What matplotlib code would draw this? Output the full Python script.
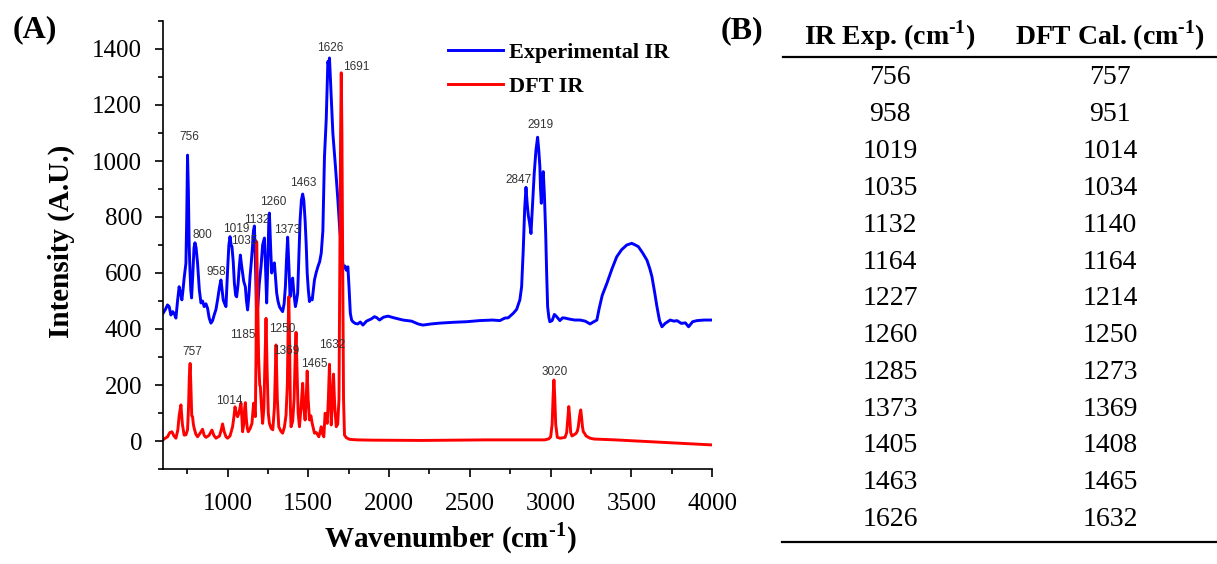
import matplotlib
matplotlib.use('Agg')
import matplotlib.pyplot as plt
from matplotlib.ticker import MultipleLocator

plt.rcParams['font.family'] = 'Liberation Serif'
plt.rcParams['mathtext.fontset'] = 'custom'
plt.rcParams['mathtext.rm'] = 'Liberation Serif'
plt.rcParams['mathtext.bf'] = 'Liberation Serif:bold'

# experimental FTIR spectrum (wavenumber, intensity)
exp_x = [600, 615, 628, 638, 649, 660, 669, 680, 690, 700, 708, 717, 724, 731, 742, 747, 752, 757, 762, 767,
         772, 777, 785, 792, 798, 805, 814, 825, 835, 845, 855, 866, 876, 886, 897, 907, 917, 928, 938, 950,
         959, 966, 973, 982, 990, 1000, 1008, 1015, 1022, 1027, 1035, 1042, 1050, 1056, 1065, 1072, 1079,
         1086, 1093, 1100, 1110, 1117, 1124, 1132, 1139, 1147, 1155, 1160, 1166, 1172, 1180, 1187, 1196,
         1207, 1217, 1228, 1235, 1242, 1250, 1255, 1259, 1266, 1273, 1282, 1290, 1297, 1304, 1312, 1321,
         1331, 1341, 1350, 1358, 1365, 1372, 1380, 1387, 1395, 1403, 1410, 1420, 1427, 1434, 1441, 1449,
         1457, 1465, 1472, 1480, 1487, 1493, 1500, 1507, 1515, 1524, 1531, 1538, 1548, 1559, 1570, 1580,
         1590, 1600, 1611, 1621, 1626, 1631, 1640, 1652, 1668, 1683, 1694, 1704, 1714, 1720, 1727, 1735,
         1745, 1752, 1760, 1768, 1776, 1790, 1806, 1822, 1838, 1860, 1890, 1910, 1925, 1941, 1965, 1993,
         2030, 2086, 2140, 2180, 2210, 2260, 2314, 2400, 2480, 2560, 2640, 2686, 2717, 2738, 2769, 2790,
         2810, 2821, 2831, 2840, 2848, 2855, 2862, 2870, 2879, 2889, 2899, 2910, 2920, 2927, 2934, 2938,
         2943, 2949, 2955, 2962, 2970, 2976, 2982, 2990, 2996, 3010, 3024, 3038, 3058, 3075, 3090, 3120,
         3150, 3183, 3215, 3245, 3265, 3287, 3300, 3320, 3349, 3380, 3410, 3440, 3472, 3503, 3525, 3544,
         3570, 3597, 3615, 3628, 3645, 3659, 3675, 3690, 3710, 3741, 3765, 3783, 3810, 3835, 3855, 3880,
         3907, 3950, 4000]
exp_y = [456, 470, 486, 480, 450, 462, 456, 439, 500, 551, 530, 504, 540, 582, 635, 800, 1021, 900, 700, 611,
         540, 511, 600, 690, 708, 690, 635, 540, 493, 500, 480, 490, 474, 439, 421, 430, 450, 470, 504, 550,
         575, 540, 504, 490, 480, 611, 700, 730, 700, 694, 640, 564, 520, 515, 560, 620, 664,
         630, 600, 570, 551, 500, 468, 520, 587, 640, 700, 750, 768, 650, 439, 480, 560,
         622, 700, 725, 620, 493, 650, 780, 814, 700, 600, 630, 636, 580, 528, 500, 480,
         470, 462, 490, 551, 650, 728, 620, 515, 560, 582, 530, 480, 500, 528, 650, 789,
         860, 882, 860, 789, 700, 600, 540, 498, 510, 504, 540, 575, 600, 622, 640, 671,
         750, 1015, 1150, 1355, 1340, 1368, 1250, 1099, 980, 861, 760, 694, 630, 618, 625, 610,
         622, 550, 457, 432, 426, 420, 418, 425, 414, 428, 436, 444, 440, 432, 442, 446,
         440, 432, 428, 418, 414, 418, 421, 424, 426, 430, 432, 430, 439, 440, 456, 470,
         504, 551, 682, 830, 906, 850, 807, 780, 741, 850, 956, 1040, 1085, 1040, 980, 900,
         849, 930, 962, 880, 741, 600, 480, 440, 426, 430, 452, 444, 430, 440, 439, 435,
         432, 432, 428, 418, 425, 432, 470, 520, 563, 614, 658, 683, 700, 706, 700, 694,
         672, 646, 615, 587, 530, 480, 430, 408, 420, 432, 428, 430, 420, 422, 408, 426,
         430, 432, 432]

# DFT calculated spectrum (wavenumber, intensity)
dft_x = [600, 614, 628, 642, 655, 668, 680, 692, 700, 711, 720, 731, 742, 752, 758, 763, 768, 773, 778, 783,
         788, 793, 803, 814, 830, 845, 855, 866, 885, 903, 915, 928, 950, 963, 969, 978, 990, 1000, 1015,
         1031, 1040, 1046, 1054, 1062, 1070, 1077, 1083, 1088, 1093, 1100, 1106, 1110, 1116, 1122, 1128,
         1140, 1151, 1156, 1161, 1166, 1172, 1176, 1180, 1185, 1192, 1199, 1203, 1210, 1217, 1225, 1230,
         1238, 1245, 1252, 1259, 1270, 1280, 1290, 1300, 1308, 1317, 1330, 1341, 1352, 1362, 1370, 1375,
         1379, 1384, 1389, 1393, 1403, 1412, 1420, 1424, 1430, 1437, 1445, 1455, 1465, 1472, 1480, 1487,
         1493, 1499, 1507, 1516, 1524, 1531, 1538, 1550, 1565, 1574, 1580, 1588, 1596, 1604, 1610, 1617,
         1624, 1631, 1637, 1642, 1650, 1656, 1663, 1673, 1682, 1690, 1696, 1700, 1704, 1708, 1713, 1718,
         1724, 1735, 1755, 1800, 1900, 2200, 2600, 2900, 2965, 2990, 3001, 3010, 3016, 3021, 3026, 3032,
         3042, 3060, 3090, 3100, 3108, 3113, 3118, 3125, 3133, 3145, 3158, 3166, 3172, 3180, 3187, 3193,
         3198, 3203, 3210, 3220, 3245, 3270, 3400, 3600, 3800, 4000]
dft_y = [4, 10, 15, 30, 33, 18, 10, 40, 90, 129, 60, 21, 22, 40, 120, 230, 277, 190, 90, 87,
         60, 46, 25, 15, 28, 42, 20, 13, 20, 39, 20, 10, 18, 45, 61, 35, 15, 10, 18,
         51, 90, 122, 100, 87, 100, 120, 135, 90, 33, 60, 120, 137, 80, 45, 33,
         45, 63, 100, 135, 110, 87, 300, 712, 560, 300, 200, 194, 120, 63, 120, 250,
         438, 250, 100, 63, 45, 40, 120, 343, 150, 51, 35, 28, 50, 93, 200, 400,
         515, 350, 120, 51, 70, 150, 330, 388, 250, 100, 51, 120, 206, 120, 75, 150,
         250, 150, 75, 90, 63, 45, 28, 30, 15, 35, 51, 25, 15, 99, 85, 63,
         150, 274, 150, 57, 150, 239, 130, 51, 60, 150, 700, 1100, 1315, 1100, 600, 150,
         21, 12, 6, 4, 3, 2, 4, 4, 4, 8, 15, 60, 160, 218, 160, 60,
         13, 10, 13, 30, 90, 123, 90, 30, 18, 22, 27, 35, 51, 90, 111, 80,
         50, 33, 28, 18, 10, 7, 4, -2, -8, -14]

# peak labels and where they sit
peak_labels = ['756', '800', '958', '1019', '1035', '1132', '1260', '1373', '1463', '1626', '1691',
               '2847', '2919', '757', '1014', '1185', '1250', '1369', '1465', '1632', '3020']
label_x = [762, 843, 930, 1054, 1104, 1178, 1284, 1370, 1470, 1637, 1799,
           2800, 2939, 781, 1011, 1097, 1339, 1364, 1538, 1650, 3028]
label_y = [1086, 736, 603, 757, 714, 789, 853, 753, 921, 1403, 1336,
           932, 1128, 318, 143, 379, 400, 321, 275, 343, 246]

# table values
ir_exp = [756, 958, 1019, 1035, 1132, 1164, 1227, 1260, 1285, 1373, 1405, 1463, 1626]
dft_cal = [757, 951, 1014, 1034, 1140, 1164, 1214, 1250, 1273, 1369, 1408, 1465, 1632]

W, H = 1217, 564
fig = plt.figure(figsize=(W / 100, H / 100), dpi=100)
ax = fig.add_axes([163 / W, 1 - 469 / H, (712 - 163) / W, (469 - 21) / H])

ax.plot(exp_x, exp_y, color='#0000ff', lw=2.1, label='Experimental IR')
ax.plot(dft_x, dft_y, color='#ff0000', lw=2.1, label='DFT IR')

for t, x, y in zip(peak_labels, label_x, label_y):
    ax.text(x, y, t, ha='center', va='center', fontsize=8.5, family='Liberation Sans', color='#333333')

ax.set_xlim(600, 4000)
ax.set_ylim(-100, 1500)
ax.set_xticks([1000, 1500, 2000, 2500, 3000, 3500, 4000])
ax.xaxis.set_minor_locator(MultipleLocator(250))
ax.yaxis.set_major_locator(MultipleLocator(200))
ax.yaxis.set_minor_locator(MultipleLocator(100))
ax.spines['top'].set_visible(False)
ax.spines['right'].set_visible(False)
for s in ['left', 'bottom']:
    ax.spines[s].set_linewidth(1.2)
ax.tick_params(which='major', direction='out', length=6, width=1.2, labelsize=18)
ax.tick_params(which='minor', direction='out', length=3.5, width=1.2)
ax.tick_params(axis='x', which='major', pad=11)
ax.tick_params(axis='y', which='major', pad=9)

hy = '\u2010'
ax.set_xlabel('Wavenumber (cm$^{\\mathbf{' + hy + '1}}$)', fontsize=21, fontweight='bold')
ax.set_ylabel('Intensity (A.U.)', fontsize=21, fontweight='bold')
ax.xaxis.set_label_coords(0.523, -0.115)
ax.yaxis.set_label_coords(-0.160, 0.509)

leg = ax.legend(loc='upper left', bbox_to_anchor=(0.519, 0.953), frameon=False,
                borderaxespad=0, borderpad=0,
                prop={'family': 'Liberation Serif', 'weight': 'bold', 'size': 16},
                handlelength=2.5, handletextpad=0.25, labelspacing=0.6)

fig.text(35 / W, 1 - 30 / H, '(A)', fontsize=23, fontweight='bold', ha='center', va='center')
fig.text(742 / W, 1 - 31 / H, '(B)', fontsize=23, fontweight='bold', ha='center', va='center')

# table (B)
col1, col2 = 890 / W, 1110 / W
fig.text(col1, 1 - 36 / H, 'IR Exp. (cm$^{\\mathbf{' + hy + '1}}$)', fontsize=20, fontweight='bold',
         ha='center', va='center')
fig.text(col2, 1 - 36 / H, 'DFT Cal. (cm$^{\\mathbf{' + hy + '1}}$)', fontsize=20, fontweight='bold',
         ha='center', va='center')
fig.add_artist(plt.Line2D([783 / W, 1.0], [1 - 57 / H, 1 - 57 / H], color='black', lw=1.6))
for i, (a, b) in enumerate(zip(ir_exp, dft_cal)):
    yy = 1 - (78 + i * 36.8) / H
    fig.text(col1, yy, str(a), fontsize=20, ha='center', va='center')
    fig.text(col2, yy, str(b), fontsize=20, ha='center', va='center')
fig.add_artist(plt.Line2D([782 / W, 1.0], [1 - 542 / H, 1 - 542 / H], color='black', lw=1.6))

fig.savefig('out.png', dpi=100)
